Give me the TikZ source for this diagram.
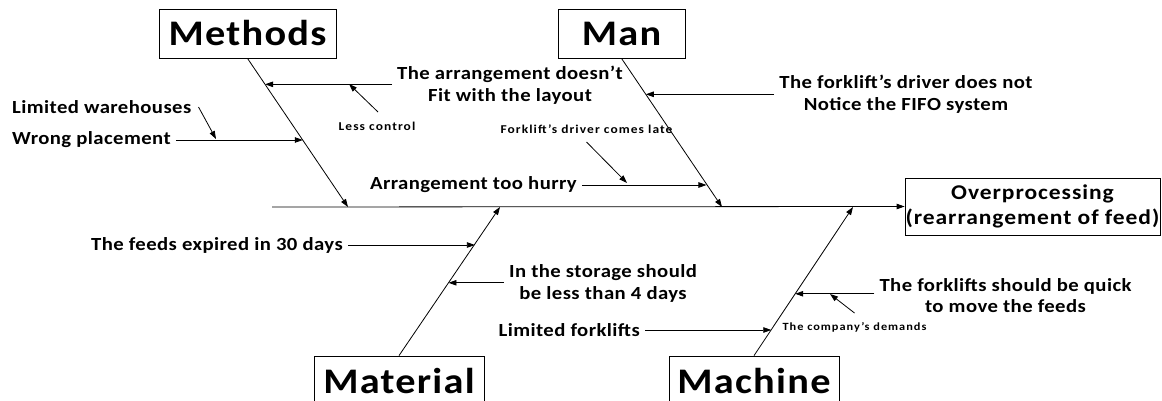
\documentclass[tikz,border=0pt]{standalone}
\usepackage{fontspec}
\setmainfont{Carlito}
\newfontfamily\causefont{Carlito}[FakeStretch=1.12, LetterSpace=3.5]
\newfontfamily\txtfont{Carlito}[FakeStretch=1.12, LetterSpace=2.3]
\newfontfamily\effectfont{Carlito}[FakeStretch=1.12, LetterSpace=4.5]
\newfontfamily\smallfont{Carlito}[FakeStretch=1.12, LetterSpace=9]
\usetikzlibrary{arrows.meta, positioning, calc}
\tikzstyle{cause} = [rectangle, draw=black, line width=0.8pt, inner sep=0pt, minimum height=49pt, font=\causefont\bfseries\fontsize{36}{38}\selectfont]
\tikzstyle{effect} = [rectangle, draw=black, line width=0.8pt, inner sep=0pt, minimum width=255pt, minimum height=57pt, align=center, font=\effectfont\bfseries\fontsize{21}{25}\selectfont]
\tikzstyle{txt} = [align=center, inner xsep=5pt, inner ysep=1pt, font=\txtfont\bfseries\fontsize{18.5}{21.5}\selectfont]
\tikzstyle{small} = [inner sep=1pt, font=\smallfont\bfseries\fontsize{12}{14}\selectfont]
\tikzstyle{tiny} = [inner sep=1pt, font=\smallfont\bfseries\fontsize{11}{13}\selectfont]
\tikzstyle{arrow} = [line width=0.8pt, -{Triangle[length=8pt,width=5.5pt]}]

\begin{document}
\begin{tikzpicture}[x=1pt, y=-1pt]
\useasboundingbox (0,0) rectangle (1162,401);

% Nodes
\node (mth) [cause, minimum width=177pt] at (247.5,33.5) {Methods};
\node (man) [cause, minimum width=127pt] at (621.5,33.5) {Man};
\node (mat) [cause, minimum width=170pt] at (399,380.5) {Material};
\node (mch) [cause, minimum width=170pt] at (754,380.5) {Machine};
\node (eff) [effect] at (1032.5,206.5) {Overprocessing\\(rearrangement of feed)};

% Spine
\coordinate (tail) at (272,207);
\coordinate (mtip) at (348,207);
\coordinate (ntip) at (722,207);
\coordinate (ttip) at (500,207);
\coordinate (ctip) at (853,207);
\draw [arrow] (tail) -- (eff.west);

% Bones
\draw [arrow] (mth.south) -- (mtip);
\draw [arrow] (man.south) -- (ntip);
\draw [arrow] (mat.north) -- (ttip);
\draw [arrow] (mch.north) -- (ctip);

\coordinate (mA) at ($(mth.south)!0.1745!(mtip)$);
\coordinate (mB) at ($(mth.south)!0.55!(mtip)$);
\coordinate (nA) at ($(man.south)!0.2416!(ntip)$);
\coordinate (nB) at ($(man.south)!0.8456!(ntip)$);
\coordinate (tA) at ($(mat.north)!0.7517!(ttip)$);
\coordinate (tB) at ($(mat.north)!0.49!(ttip)$);
\coordinate (cA) at ($(mch.north)!0.1745!(ctip)$);
\coordinate (cB) at ($(mch.north)!0.416!(ctip)$);

% Causes
\node (lw) [txt, anchor=west] at (7,107) {Limited warehouses};
\node (wp) [txt, anchor=west] at (7,140) {Wrong placement};
\node (fit) [txt] at (510,85) {The arrangement doesn’t\\Fit with the layout};
\node (lc) [small] at (377,126) {Less control};
\node (fifo) [txt] at (906,94) {The forklift’s driver does not\\Notice the FIFO system};
\node (late) [small] at (586.5,129) {Forklift’s driver comes late};
\node (hurry) [txt, anchor=east] at (582,185) {Arrangement too hurry};
\node (exp) [txt, anchor=east] at (348,245) {The feeds expired in 30 days};
\node (stor) [txt] at (603,283.5) {In the storage should\\be less than 4 days};
\node (lf) [txt, anchor=east] at (645,330) {Limited forklifts};
\node (quick) [txt] at (1005.5,295.5) {The forklifts should be quick\\to move the feeds};
\node (dem) [tiny] at (854.5,327) {The company’s demands};

\coordinate (lcTip) at (349,84);
\coordinate (lwTip) at (216,139);
\coordinate (lateTip) at (627,183);
\coordinate (demTip) at (830,294);

% Arrows
\draw [arrow] (fit.west |- mA) -- (mA);
\draw [arrow] (wp.east) -- (wp.east -| mB);
\draw [arrow] (fifo.west |- nA) -- (nA);
\draw [arrow] (hurry.east) -- (hurry.east -| nB);
\draw [arrow] (exp.east) -- (exp.east -| tA);
\draw [arrow] (stor.west |- tB) -- (tB);
\draw [arrow] (lf.east) -- (lf.east -| cA);
\draw [arrow] (quick.west |- cB) -- (cB);

\draw [arrow] ($(lc.center)+(1,-14)$) -- (lcTip);
\draw [arrow] ($(lw.east)+(2,0)$) -- (lwTip);
\draw [arrow] ($(late.center)+(0,13)$) -- (lateTip);
\draw [arrow] ($(dem.center)+(0,-14)$) -- (demTip);

\end{tikzpicture}
\end{document}
